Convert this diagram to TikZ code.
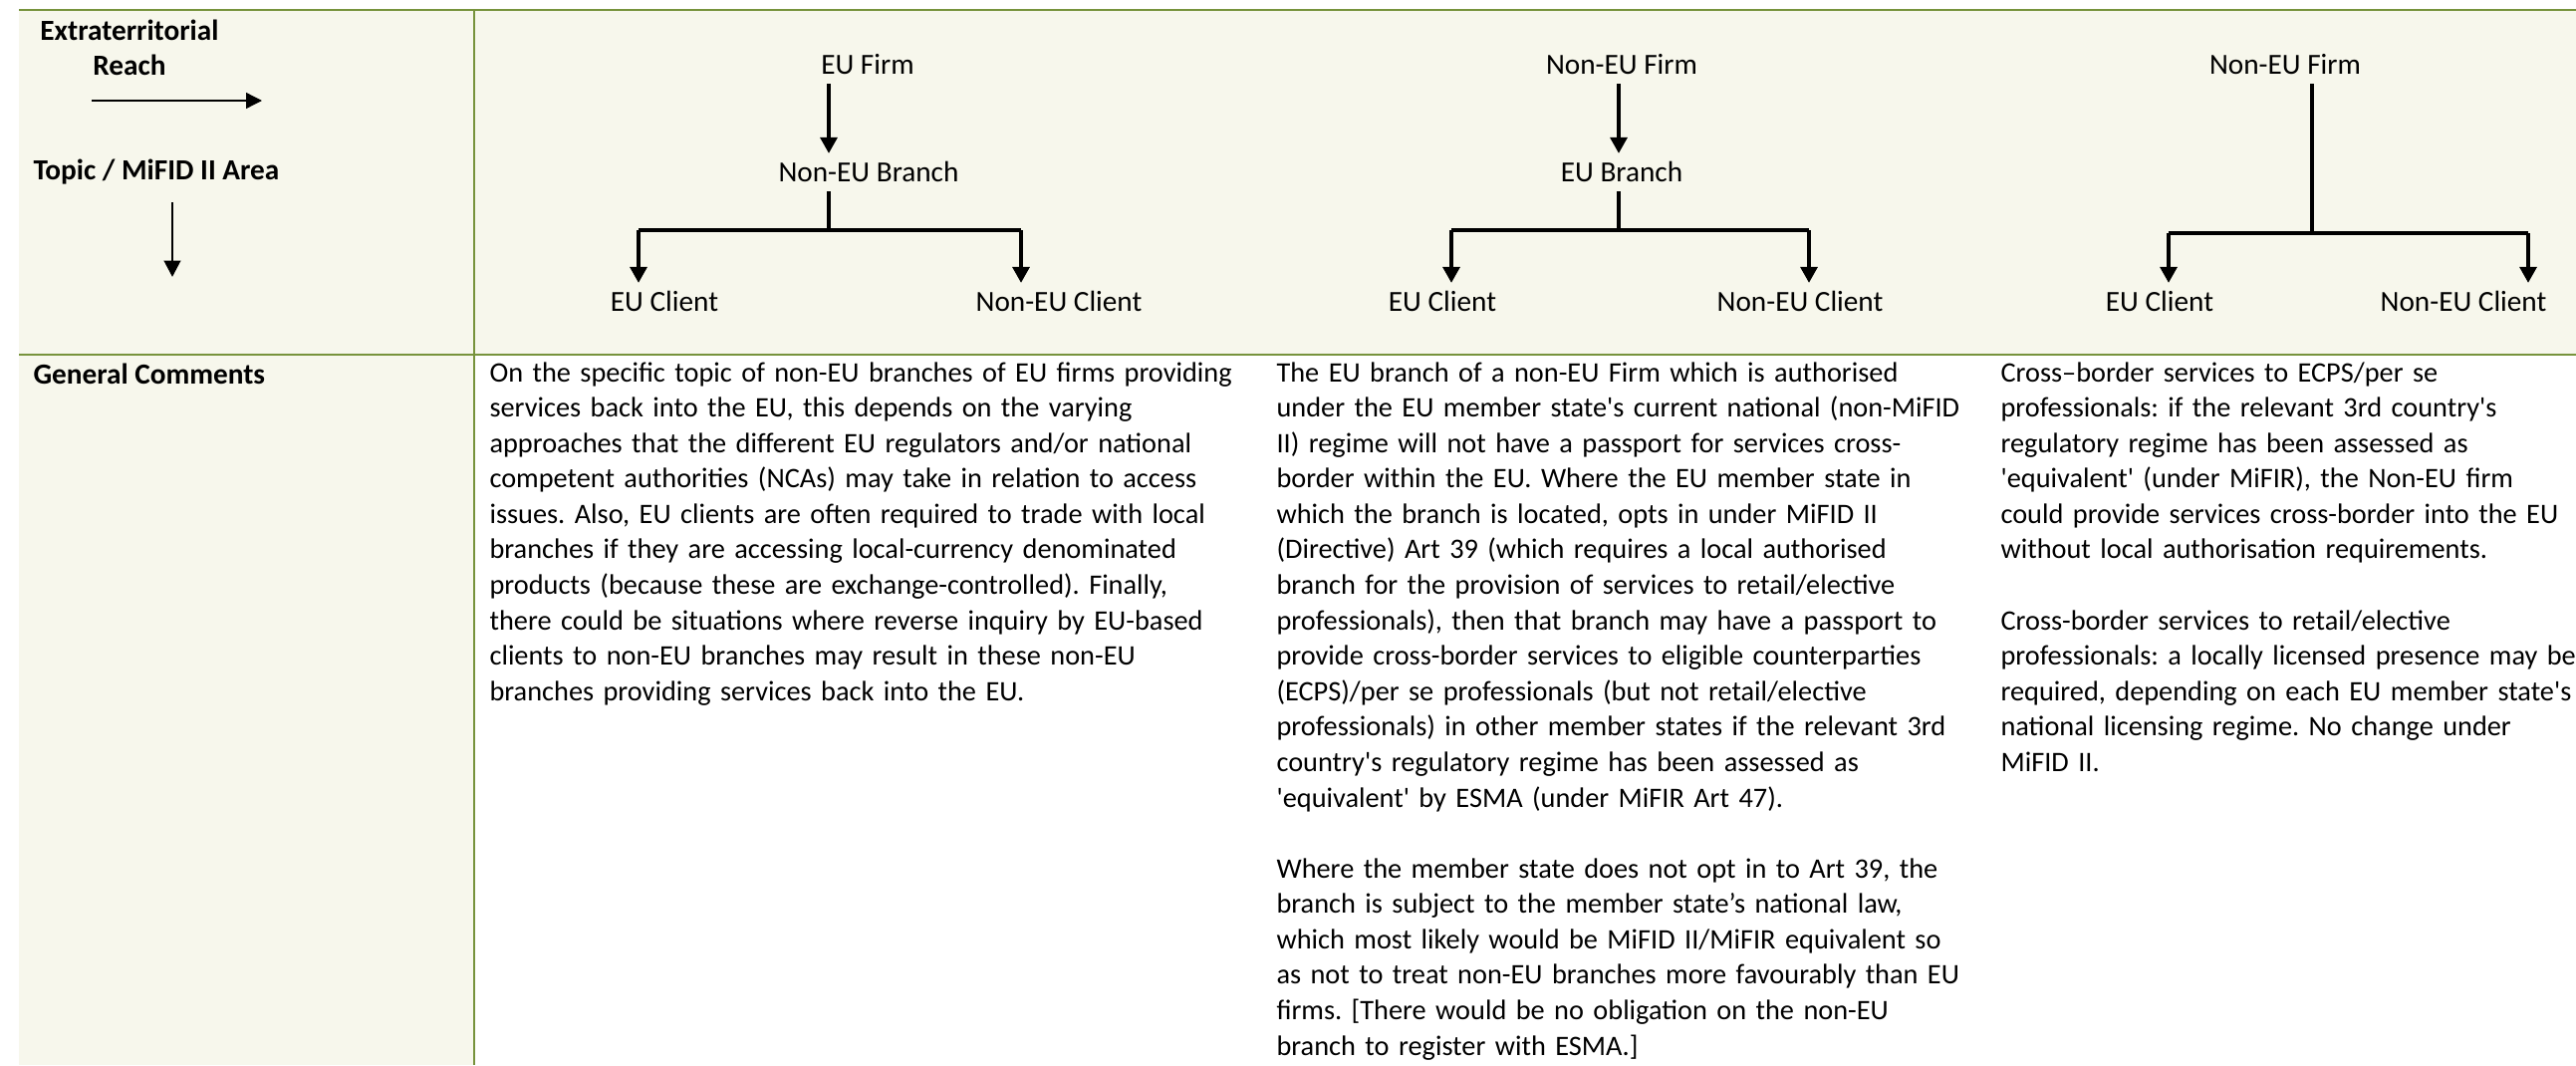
\documentclass[tikz,border=0pt]{standalone}
\usepackage{fontspec}
\setmainfont{Carlito}
\usepackage{tikz}
\usetikzlibrary{arrows.meta, calc}

\definecolor{tblgreen}{HTML}{77933C}
\definecolor{tblcream}{HTML}{F7F7EC}
\newcommand{\cellfont}{\fontsize{11pt}{13.5pt}\selectfont}
\newcommand{\bodyfont}{\fontsize{10.65pt}{13.38pt}\selectfont}
\frenchspacing

\tikzset{
  lbl/.style={inner sep=3.5pt, text height=7pt, text depth=0pt},
  hd/.style={font=\cellfont\bfseries, inner sep=0pt},
  body/.style={anchor=base west, inner sep=0pt, text width=330pt, align=left, font=\bodyfont},
  flow/.style={line width=1.2pt, -{Triangle[length=6pt, width=6.4pt]}},
  tree/.style={line width=1.2pt},
  rule/.style={draw=tblgreen, line width=1.1pt}
}

\begin{document}
\begin{tikzpicture}[x=0.376pt, y=-0.376pt, font=\cellfont]
  \useasboundingbox (0,0) rectangle (2586,1069);
  % table background and rules
  \fill [tblcream] (19,10) rectangle (2586,356);     % header row
  \fill [tblcream] (19,356) rectangle (476,1069);    % left column
  \draw [rule] (19,10) -- (2586,10);                 % top rule
  \draw [rule] (19,356) -- (2586,356);               % header rule
  \draw [rule, line width=0.9pt] (476,10) -- (476,1069); % column rule

  % left column
  \node [hd] (ext) at (130,30) {Extraterritorial};
  \node [hd] (reach) at (130,65) {Reach};
  \coordinate (ra) at (92,101);
  \coordinate (rb) at (263,101);
  \draw [line width=0.5pt, -{Triangle[length=6pt, width=6pt]}] (ra) -- (rb);
  \node [hd, anchor=west] (topic) at (33,173) {Topic / MiFID II Area};
  \coordinate (ta) at (173,203);
  \coordinate (tb) at (173,278);
  \draw [line width=1.1pt, -{Triangle[length=6.2pt, width=6.2pt]}] (ta) -- (tb);
  \node [hd, anchor=base west] (gen) at (33,385) {General Comments};

  % EU firm -> non-EU branch
  \node [lbl] (firmA) at (871,65) {EU Firm};
  \node [lbl] (branchA) at (872,173) {Non-EU Branch};
  \node [lbl] (euclA) at (667,303) {EU Client};
  \node [lbl] (nonclA) at (1063,303) {Non-EU Client};
  \coordinate (jA) at (832,231);
  \coordinate (lA) at (641,231);
  \coordinate (rA) at (1025,231);
  \draw [flow] (firmA.south -| jA) -- (branchA.north -| jA);
  \draw [tree] (branchA.south -| jA) -- (jA);
  \draw [tree] (lA) -- (rA);
  \draw [flow] (lA) -- (lA |- euclA.north);
  \draw [flow] (rA) -- (rA |- nonclA.north);

  % non-EU firm -> EU branch
  \node [lbl] (firmB) at (1628,65) {Non-EU Firm};
  \node [lbl] (branchB) at (1628,173) {EU Branch};
  \node [lbl] (euclB) at (1448,303) {EU Client};
  \node [lbl] (nonclB) at (1807,303) {Non-EU Client};
  \coordinate (jB) at (1625,231);
  \coordinate (lB) at (1457,231);
  \coordinate (rB) at (1816,231);
  \draw [flow] (firmB.south -| jB) -- (branchB.north -| jB);
  \draw [tree] (branchB.south -| jB) -- (jB);
  \draw [tree] (lB) -- (rB);
  \draw [flow] (lB) -- (lB |- euclB.north);
  \draw [flow] (rB) -- (rB |- nonclB.north);

  % non-EU firm direct
  \node [lbl] (firmC) at (2294,65) {Non-EU Firm};
  \node [lbl] (euclC) at (2168,303) {EU Client};
  \node [lbl] (nonclC) at (2473,303) {Non-EU Client};
  \coordinate (jC) at (2321,234);
  \coordinate (lC) at (2177,234);
  \coordinate (rC) at (2538,234);
  \draw [tree] (firmC.south -| jC) -- (jC);
  \draw [tree] (lC) -- (rC);
  \draw [flow] (lC) -- (lC |- euclC.north);
  \draw [flow] (rC) -- (rC |- nonclC.north);

  % comments
  \node [body] (txtA) at (491,383) {On the specific topic of non-EU branches of EU firms providing\\
    services back into the EU, this depends on the varying\\
    approaches that the different EU regulators and/or national\\
    competent authorities (NCAs) may take in relation to access\\
    issues. Also, EU clients are often required to trade with local\\
    branches if they are accessing local-currency denominated\\
    products (because these are exchange-controlled). Finally,\\
    there could be situations where reverse inquiry by EU-based\\
    clients to non-EU branches may result in these non-EU\\
    branches providing services back into the EU.};
  \node [body] (txtB) at (1281,383) {The EU branch of a non-EU Firm which is authorised\\
    under the EU member state\textquotesingle s current national (non-MiFID\\
    II) regime will not have a passport for services cross-\\
    border within the EU. Where the EU member state in\\
    which the branch is located, opts in under MiFID II\\
    (Directive) Art 39 (which requires a local authorised\\
    branch for the provision of services to retail/elective\\
    professionals), then that branch may have a passport to\\
    provide cross-border services to eligible counterparties\\
    (ECPS)/per se professionals (but not retail/elective\\
    professionals) in other member states if the relevant 3rd\\
    country\textquotesingle s regulatory regime has been assessed as\\
    \textquotesingle equivalent\textquotesingle{} by ESMA (under MiFIR Art 47).\\[13.38pt]
    Where the member state does not opt in to Art 39, the\\
    branch is subject to the member state’s national law,\\
    which most likely would be MiFID II/MiFIR equivalent so\\
    as not to treat non-EU branches more favourably than EU\\
    firms. [There would be no obligation on the non-EU\\
    branch to register with ESMA.]};
  \node [body] (txtC) at (2008,383) {Cross–border services to ECPS/per se\\
    professionals: if the relevant 3rd country\textquotesingle s\\
    regulatory regime has been assessed as\\
    \textquotesingle equivalent\textquotesingle{} (under MiFIR), the Non-EU firm\\
    could provide services cross-border into the EU\\
    without local authorisation requirements.\\[13.38pt]
    Cross-border services to retail/elective\\
    professionals: a locally licensed presence may be\\
    required, depending on each EU member state\textquotesingle s\\
    national licensing regime. No change under\\
    MiFID II.};
\end{tikzpicture}
\end{document}
